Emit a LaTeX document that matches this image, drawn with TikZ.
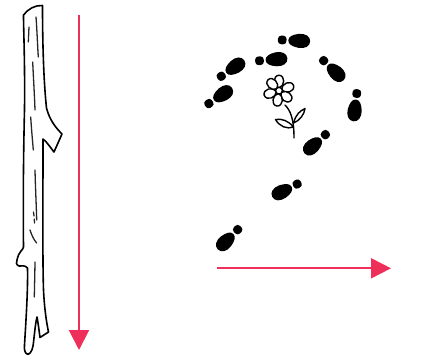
\documentclass[tikz,border=0pt]{standalone}
\usetikzlibrary{arrows.meta}
\definecolor{arrowred}{RGB}{237,47,90}
\tikzset{
  guide/.style={draw=arrowred, line width=2pt, -{Triangle[length=20pt,width=20pt]}},
  bark/.style={draw=black, line width=1.6pt, line join=round, line cap=round},
  grain/.style={draw=black!85, line width=1.3pt, line cap=round},
  petal/.style={draw=black, line width=1.4pt, fill=white, line join=round},
  stalk/.style={draw=black, line width=1.4pt, line cap=round, line join=round},
  shoeprint/.pic={
    % heel
    \fill[rounded corners=3.2pt] (-4.8,-4.3) rectangle (3.8,4.3);
    % sole
    \fill (5.6,0) .. controls (5.6,-4) and (10,-6) .. (16,-7)
          .. controls (22.5,-7.8) and (27.5,-5) .. (27.5,0)
          .. controls (27.5,5) and (22.5,7.8) .. (16,7)
          .. controls (10,6) and (5.6,4) .. (5.6,0) -- cycle;
  }
}
\begin{document}
\begin{tikzpicture}[x=1pt,y=-1pt]
\useasboundingbox (0,0) rectangle (427,356);

% --- the stick ---
\draw[bark]
  (23.5,15) .. controls (28,9) and (35,5) .. (42.5,5.5)
  .. controls (42.5,40) and (43.5,80) .. (46.5,108)
  .. controls (49.5,120) and (56,128) .. (62,134)
  -- (54,152)
  .. controls (50,147) and (47,142) .. (43,139)
  .. controls (43,200) and (42.5,260) .. (43.5,290)
  .. controls (44.5,310) and (46.5,322) .. (48.5,332)
  -- (40,337.5)
  .. controls (39,330) and (38,322) .. (37,317)
  .. controls (35,325) and (34,340) .. (33,346)
  .. controls (32,352) and (29,355) .. (27,354)
  .. controls (25,353) and (24,350) .. (24.5,345)
  .. controls (26,320) and (28,290) .. (27.5,268)
  .. controls (25,265) and (22,266) .. (19,266)
  .. controls (16,265) and (16,262) .. (17,260)
  .. controls (18,256) and (19,253) .. (21,251)
  .. controls (22,250) and (23,249) .. (23.5,247)
  .. controls (23,200) and (23.5,150) .. (24.5,110)
  .. controls (25,60) and (23.5,30) .. (23.5,15);
% bark grain
\draw[grain] (29,27) -- (28.3,42);
\draw[grain] (36,17) .. controls (37,30) and (37.5,45) .. (38.3,57);
\draw[grain] (32.7,62) .. controls (33.5,80) and (34.5,95) .. (35,110);
\draw[grain] (30.7,117) .. controls (31.5,130) and (32.5,140) .. (33.3,150);
\draw[grain] (35,170) .. controls (35.5,190) and (36.3,205) .. (36.7,220);
\draw[grain] (33.5,212) -- (34,216);
\draw[grain] (34.2,219) -- (34.6,223);
\draw[grain] (30,230) .. controls (32,236) and (34,240) .. (36.7,243);
\draw[grain] (35,262) .. controls (34.8,275) and (34.5,287) .. (34.3,297);

% --- arrows ---
\coordinate (vstart) at (79,15);
\coordinate (vend) at (79,350);
\coordinate (hstart) at (217,268.3);
\coordinate (hend) at (391,268.3);
\draw[guide] (vstart) -- (vend);
\draw[guide] (hstart) -- (hend);

% --- footprints (heel position, heading) ---
\pic[rotate=-3]   at (282.7,40)   {shoeprint};
\pic[rotate=5]    at (260,60.7)   {shoeprint};
\pic[rotate=35]   at (221.7,76)   {shoeprint};
\pic[rotate=34]   at (209.3,103.3){shoeprint};
\pic[rotate=-44]  at (324,61)     {shoeprint};
\pic[rotate=-97]  at (356.7,94)   {shoeprint};
\pic[rotate=-138] at (325,135)    {shoeprint};
\pic[rotate=-153] at (296.7,184.3){shoeprint};
\pic[rotate=-135] at (237.3,230)  {shoeprint};

% --- the flower ---
\draw[stalk] (285,105) .. controls (290,110) and (294,118) .. (294,138);
\draw[petal] (293.5,123) .. controls (296,114) and (300,111) .. (305,108.5)
  .. controls (304.5,114) and (299.5,121) .. (293.5,123) -- cycle;
\draw[petal] (293.5,127) .. controls (288,120.5) and (282,118.5) .. (275.5,119.5)
  .. controls (279.5,126.5) and (287,129.5) .. (293.5,127) -- cycle;
\begin{scope}[shift={(279,90.7)}]
  \foreach \a in {90,20,-39,-98,-163,135}
    \draw[petal, rotate=\a] (2.8,0) .. controls (4.5,-6) and (15,-6.5) .. (15.5,0)
      .. controls (15,6.5) and (4.5,6) .. (2.8,0) -- cycle;
  \draw[petal] (0,0) circle (3.4);
\end{scope}
\end{tikzpicture}
\end{document}
